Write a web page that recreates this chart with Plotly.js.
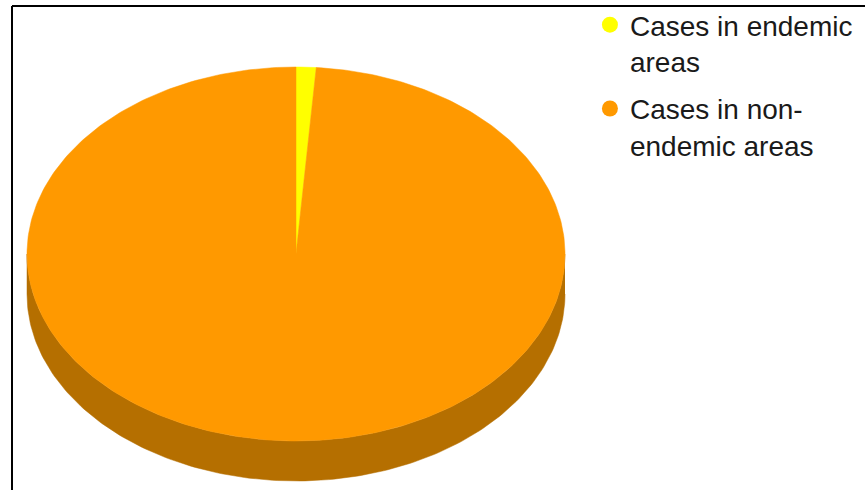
<!DOCTYPE html>
<html>
<head>
<meta charset="utf-8">
<script src="https://cdn.plot.ly/plotly-3.0.1.min.js"></script>
<style>html,body{margin:0;padding:0;background:#fff;}#chart{width:865px;height:490px;}</style>
</head>
<body>
<div id="chart"></div>
<script>
// ---- data ----
const labels = ['Cases in endemic areas', 'Cases in non-endemic areas'];
const legendLabels = ['Cases in endemic<br>areas', 'Cases in non-<br>endemic areas'];
const values = [1.2, 98.8];
const topColors = ['#FFFF00', '#FF9900'];
const sideColors = ['#B8B800', '#B56F00'];

// ---- geometry of the tilted pie (pixel space) ----
const CX = 296, CY = 254, RX = 269, RY = 187, DEPTH = 40;

function pt(deg, dy) {
  const r = deg * Math.PI / 180;
  return [CX + RX * Math.sin(r), CY - RY * Math.cos(r) + (dy || 0)];
}
function arc(a0, a1, dy) {
  const n = Math.max(2, Math.ceil(Math.abs(a1 - a0) / 1));
  const xs = [], ys = [];
  for (let i = 0; i <= n; i++) {
    const p = pt(a0 + (a1 - a0) * i / n, dy);
    xs.push(p[0]); ys.push(p[1]);
  }
  return [xs, ys];
}

const total = values.reduce((a, b) => a + b, 0);
const angles = [];
let acc = 0;
values.forEach(v => { const a0 = acc / total * 360; acc += v; angles.push([a0, acc / total * 360]); });

const traces = [];
// sides (visible front half: 90..270 deg)
angles.forEach((ang, i) => {
  const s0 = Math.max(ang[0], 90), s1 = Math.min(ang[1], 270);
  if (s1 <= s0) return;
  const top = arc(s0, s1, 0), bot = arc(s1, s0, DEPTH);
  traces.push({
    type: 'scatter', mode: 'lines', fill: 'toself',
    x: top[0].concat(bot[0]), y: top[1].concat(bot[1]),
    fillcolor: sideColors[i], line: {width: 0.5, color: sideColors[i]},
    hoverinfo: 'skip', showlegend: false
  });
});
// tops
angles.forEach((ang, i) => {
  const a = arc(ang[0], ang[1], 0);
  traces.push({
    type: 'scatter', mode: 'lines', fill: 'toself',
    x: [CX].concat(a[0]).concat([CX]), y: [CY].concat(a[1]).concat([CY]),
    fillcolor: topColors[i], line: {width: 0.5, color: topColors[i]},
    name: labels[i], text: labels[i], hoverinfo: 'text', showlegend: false
  });
});
// legend entries
labels.forEach((l, i) => {
  traces.push({
    type: 'scatter', mode: 'markers', x: [null], y: [null],
    name: legendLabels[i], legendgroup: 'g' + i,
    marker: {size: 16, color: topColors[i], symbol: 'circle'},
    showlegend: true, hoverinfo: 'skip'
  });
});

const layout = {
  width: 865, height: 490,
  margin: {l: 0, r: 0, t: 0, b: 0},
  paper_bgcolor: '#ffffff', plot_bgcolor: '#ffffff',
  xaxis: {range: [0, 865], visible: false, fixedrange: true},
  yaxis: {range: [490, 0], visible: false, fixedrange: true},
  showlegend: true,
  legend: {
    x: 0.682, y: 1, xanchor: 'left', yanchor: 'top',
    font: {family: 'Liberation Sans, Arial, sans-serif', size: 28, color: '#1a1a1a'},
    bgcolor: 'rgba(0,0,0,0)', borderwidth: 0,
    traceorder: 'grouped', tracegroupgap: 8, valign: 'top'
  },
  shapes: [
    {type: 'line', xref: 'x', yref: 'y', x0: 12, y0: 490, x1: 12, y1: 6, line: {color: '#000', width: 2}},
    {type: 'line', xref: 'x', yref: 'y', x0: 12, y0: 6, x1: 865, y1: 6, line: {color: '#000', width: 2}}
  ]
};

Plotly.newPlot('chart', traces, layout, {displayModeBar: false, staticPlot: true});
</script>
</body>
</html>
